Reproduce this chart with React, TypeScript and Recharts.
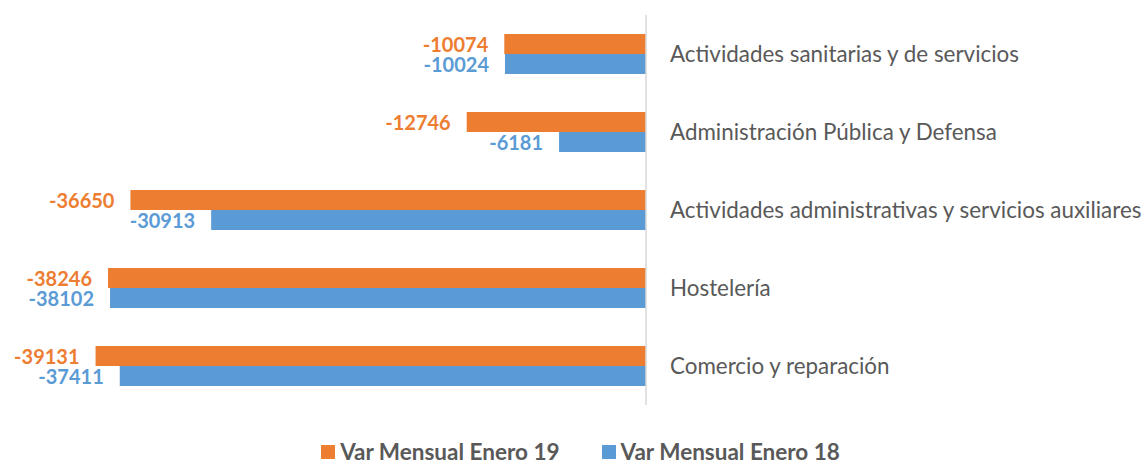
import { Bar, BarChart, LabelList, Legend, XAxis, YAxis } from 'recharts';

const CATEGORIES = [
  'Actividades sanitarias y de servicios',
  'Administración Pública y Defensa',
  'Actividades administrativas y servicios auxiliares',
  'Hostelería',
  'Comercio y reparación',
];
const VAR_ENERO_19 = [-10074, -12746, -36650, -38246, -39131];
const VAR_ENERO_18 = [-10024, -6181, -30913, -38102, -37411];

const ORANGE = '#ED7D31';
const BLUE = '#5B9BD5';
const FONT = 'Lato, Carlito, Calibri, sans-serif';

const rows = CATEGORIES.map((name, i) => ({
  name,
  v19: VAR_ENERO_19[i],
  v18: VAR_ENERO_18[i],
}));

const LEGEND_ITEMS = [
  { label: 'Var Mensual Enero 19', color: ORANGE },
  { label: 'Var Mensual Enero 18', color: BLUE },
];

function ChartLegend() {
  return (
    <div
      style={{
        height: 59,
        display: 'flex',
        justifyContent: 'center',
        alignItems: 'flex-end',
        fontFamily: FONT,
        fontWeight: 700,
        fontSize: 22.5,
        color: '#595959',
        lineHeight: '24px',
      }}
    >
      {LEGEND_ITEMS.map((item, i) => (
        <span
          key={item.label}
          style={{ display: 'flex', alignItems: 'center', marginLeft: i ? 42 : 0, marginBottom: 0 }}
        >
          <span style={{ width: 14, height: 14, background: item.color, marginRight: 5 }} />
          {item.label}
        </span>
      ))}
    </div>
  );
}

// value label drawn left of the bar's outer (left) end
function makeValueLabel(color: string) {
  return (props: any) => {
    const { x, y, width, height, value } = props;
    const left = Math.min(Number(x), Number(x) + Number(width));
    return (
      <text
        x={left - 16}
        y={Number(y) + Number(height) / 2}
        textAnchor="end"
        dominantBaseline="central"
        fill={color}
        fontFamily={FONT}
        fontWeight={700}
        fontSize={20}
      >
        {value}
      </text>
    );
  };
}

export default function App() {
  return (
    <div style={{ position: 'absolute', left: 0, top: 0, background: '#fff' }}>
      <BarChart
        width={1148}
        height={464}
        data={rows}
        layout="vertical"
        margin={{ top: 15, right: 0, bottom: 0, left: 13 }}
        barGap={0}
      >
        <XAxis type="number" domain={[-45000, 0]} hide />
        <YAxis
          type="category"
          dataKey="name"
          orientation="right"
          width={502}
          axisLine={{ stroke: '#D9D9D9', strokeWidth: 1.5 }}
          tickLine={false}
          tickMargin={18}
          tick={{ fill: '#595959', fontSize: 22.4, fontFamily: FONT }}
        />
        <Legend verticalAlign="bottom" height={59} content={() => <ChartLegend />} />
        <Bar dataKey="v19" name="Var Mensual Enero 19" fill={ORANGE} barSize={20} isAnimationActive={false}>
          <LabelList dataKey="v19" content={makeValueLabel(ORANGE)} />
        </Bar>
        <Bar dataKey="v18" name="Var Mensual Enero 18" fill={BLUE} barSize={20} isAnimationActive={false}>
          <LabelList dataKey="v18" content={makeValueLabel(BLUE)} />
        </Bar>
      </BarChart>
    </div>
  );
}
